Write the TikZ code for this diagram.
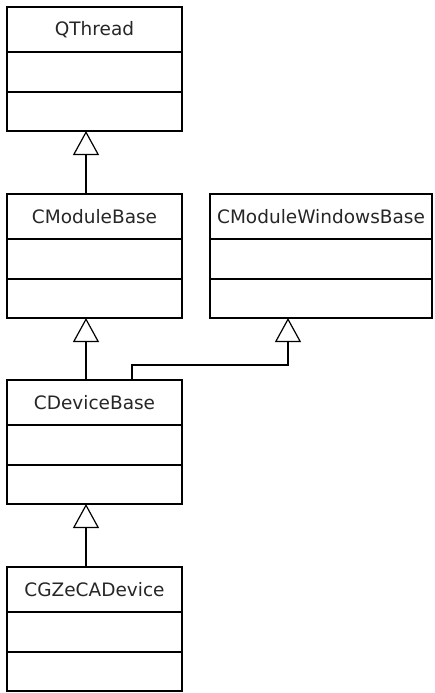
\documentclass[tikz,border=0pt]{standalone}
\usepackage{fontspec}
\setmainfont{DejaVu Sans}
\usetikzlibrary{arrows.meta, positioning}
\tikzset{
  classhead/.style={rectangle, draw, line width=1.2pt, outer sep=0pt, inner sep=0pt, minimum width=175pt, minimum height=45pt, font=\fontsize{18.5}{20}\selectfont, text=black!85},
  classpart/.style={rectangle, draw, line width=1.2pt, outer sep=0pt, inner sep=0pt, minimum width=175pt, minimum height=40pt},
  widehead/.style={classhead, minimum width=222pt},
  widepart/.style={classpart, minimum width=222pt},
  inherit/.style={-{Triangle[open, length=24pt, width=26pt]}, line width=1.2pt},
}

\begin{document}
\begin{tikzpicture}
  \useasboundingbox (0,0) rectangle (435pt,-693pt);

  % left column of classes
  \node[classhead, anchor=north west] (qthread) at (7pt,-7pt) {QThread};
  \node[classpart, below=0pt of qthread] (qthreadattr) {};
  \node[classpart, below=0pt of qthreadattr, minimum height=39pt] (qthreadop) {};

  \node[classhead, below=63pt of qthreadop] (modbase) {CModuleBase};
  \node[classpart, below=0pt of modbase] (modbaseattr) {};
  \node[classpart, below=0pt of modbaseattr, minimum height=39pt] (modbaseop) {};

  \node[classhead, below=62pt of modbaseop] (devbase) {CDeviceBase};
  \node[classpart, below=0pt of devbase] (devbaseattr) {};
  \node[classpart, below=0pt of devbaseattr, minimum height=39pt] (devbaseop) {};

  \node[classhead, below=63pt of devbaseop] (gzeca) {CGZeCADevice};
  \node[classpart, below=0pt of gzeca] (gzecaattr) {};
  \node[classpart, below=0pt of gzecaattr, minimum height=39pt] (gzecaop) {};

  % right class
  \node[widehead, right=28pt of modbase] (winbase) {CModuleWindowsBase};
  \node[widepart, below=0pt of winbase] (winbaseattr) {};
  \node[widepart, below=0pt of winbaseattr, minimum height=39pt] (winbaseop) {};

  % generalisations
  \draw[inherit] ([xshift=-8.5pt]modbase.north) -- ([xshift=-8.5pt]qthreadop.south);
  \draw[inherit] ([xshift=-8.5pt]devbase.north) -- ([xshift=-8.5pt]modbaseop.south);
  \draw[inherit] ([xshift=-8.5pt]gzeca.north) -- ([xshift=-8.5pt]devbaseop.south);
  \draw[inherit] ([xshift=37.5pt]devbase.north) -- ++(0,15pt) -| ([xshift=-33pt]winbaseop.south);
\end{tikzpicture}
\end{document}
